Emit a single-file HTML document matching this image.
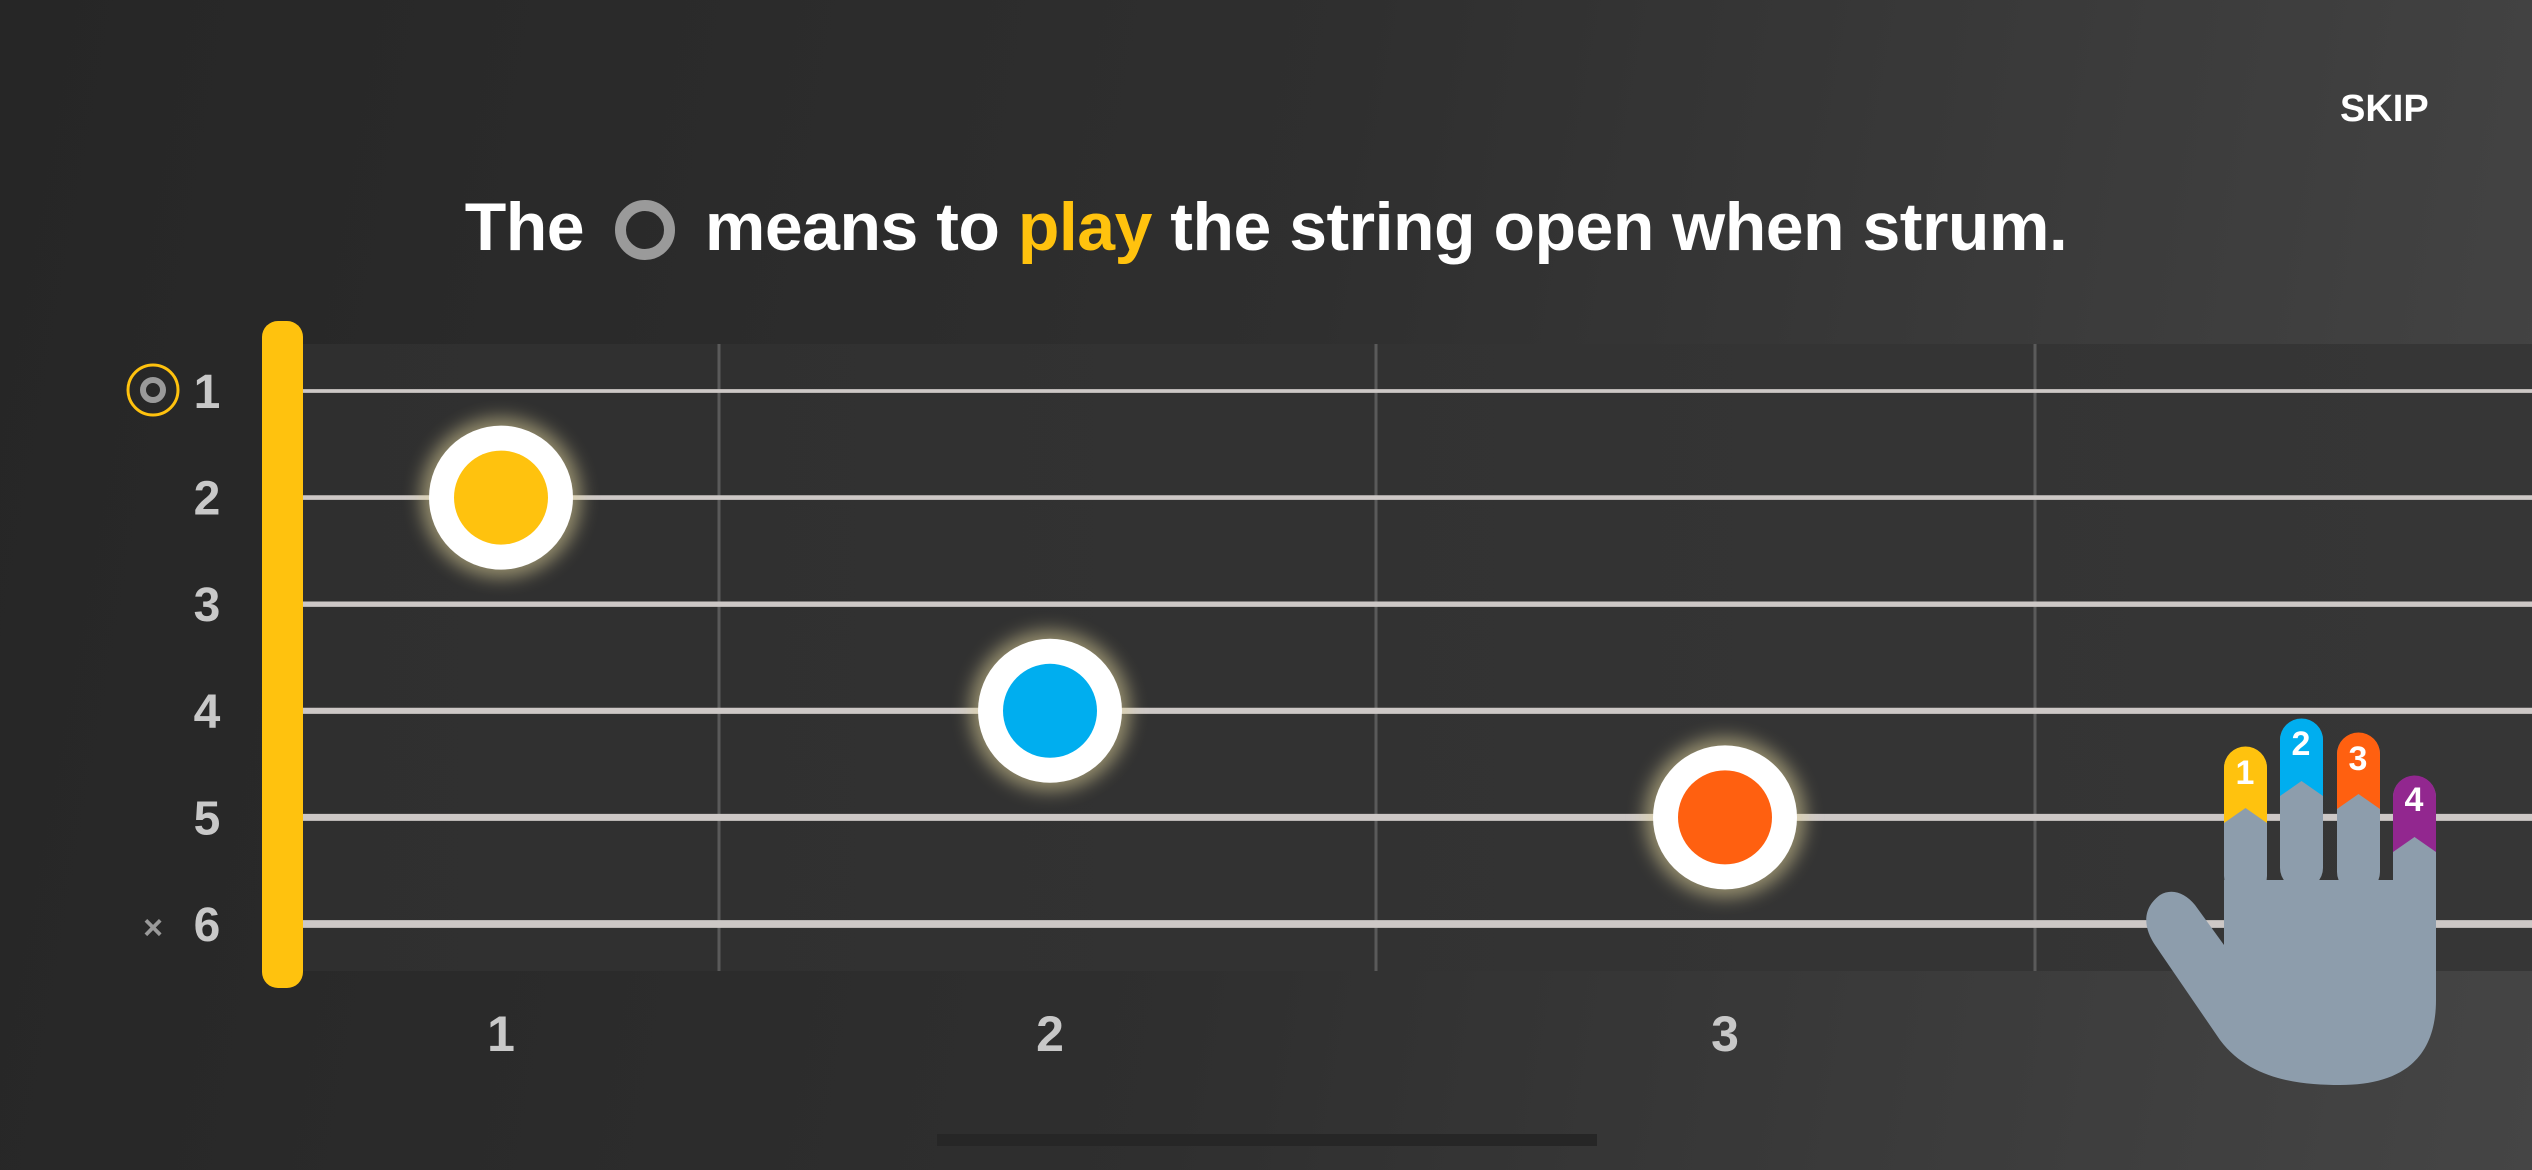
<!DOCTYPE html>
<html><head><meta charset="utf-8"><style>
html,body{margin:0;padding:0}
body{width:2532px;height:1170px;overflow:hidden;background:linear-gradient(100deg,#262626 0%,#2f2f2f 50%,#454545 100%);font-family:"Liberation Sans",sans-serif;position:relative}
#title{position:absolute;top:188px;left:0;width:2532px;text-align:center;color:#fff;font-weight:bold;font-size:68px;letter-spacing:-0.5px}
#skip{position:absolute;left:2340px;top:88px;color:#fff;font-weight:bold;font-size:38px}
</style></head><body>
<div id="skip">SKIP</div>
<div id="title">The <span style="display:inline-block;width:38px;height:38px;border:11px solid #9a9a9a;border-radius:50%;vertical-align:-10px;margin:0 12px"></span> means to <span style="color:#ffc20e">play</span> the string open when strum.</div>
<svg id="chart" width="2532" height="1170" style="position:absolute;left:0;top:0">
<defs>
<filter id="glow" x="-50%" y="-50%" width="200%" height="200%"><feGaussianBlur stdDeviation="9"/></filter>
<linearGradient id="fb" x1="0" x2="1"><stop offset="0" stop-color="#2f2f2f"/><stop offset="1" stop-color="#363636"/></linearGradient>
</defs>
<rect x="302" y="344" width="2230" height="627" fill="url(#fb)"/>
<g id="frets"></g><g id="strings"></g><g id="labels"></g><g id="dots"></g>
<rect x="262" y="321" width="41" height="667" rx="16" fill="#ffc20e"/>
<circle cx="153" cy="390" r="25" fill="none" stroke="#ffc20e" stroke-width="3"/>
<circle cx="153" cy="390" r="10" fill="none" stroke="#9a9a9a" stroke-width="6"/>
<text x="153" y="939" fill="#9a9a9a" font-size="34" font-weight="bold" text-anchor="middle">×</text>
<g>
<path d="M2160 895 C2140 910 2145 930 2155 945 L2220 1040 C2250 1080 2300 1085 2340 1085 C2400 1085 2436 1060 2436 1000 L2436 880 L2224 880 L2224 945 L2195 905 C2185 893 2172 888 2160 895Z" fill="#8d9dac"/>
<rect x="2224" y="747" width="43" height="150" rx="21" fill="#8d9dac"/>
<rect x="2280" y="719" width="43" height="170" rx="21" fill="#8d9dac"/>
<rect x="2337" y="733" width="43" height="160" rx="21" fill="#8d9dac"/>
<rect x="2393" y="776" width="43" height="130" rx="21" fill="#8d9dac"/>
<rect x="2224" y="880" width="212" height="40" fill="#8d9dac"/>
<path d="M2224 823 V768 a21.5 21.5 0 0 1 43 0 V823 L2245.5 808Z" fill="#ffc20e"/>
<path d="M2280 796 V740 a21.5 21.5 0 0 1 43 0 V796 L2301.5 781Z" fill="#00aeef"/>
<path d="M2337 809 V754 a21.5 21.5 0 0 1 43 0 V809 L2358.5 794Z" fill="#ff6010"/>
<path d="M2393 852 V797 a21.5 21.5 0 0 1 43 0 V852 L2414.5 837Z" fill="#92278f"/>
<g fill="#fff" font-weight="bold" font-size="34" text-anchor="middle">
<text x="2245" y="784">1</text><text x="2301" y="755">2</text><text x="2358" y="770">3</text><text x="2414" y="811">4</text></g>
</g>
<rect x="937" y="1134" width="660" height="12" fill="#262626"/>
</svg>
<script>
const stringNums=[1,2,3,4,5,6];
const fretNums=[1,2,3];
const fretLineX=[719,1376,2035];
const dotStrings=[2,4,5];
const dotFrets=[1,2,3];
const dotColors=['#ffc20e','#00aeef','#ff6010'];
const NS='http://www.w3.org/2000/svg';
function yS(s){return 391+(s-1)*106.6;}
const fc=[501,1050,1725];
function xF(f){const i=Math.floor(f)-1;if(i<0)return fc[0]+(f-1)*549;if(i>=fc.length-1)return fc[fc.length-1]+(f-fc.length)*675;return fc[i]+(f-1-i)*(fc[i+1]-fc[i]);}
function mk(tag,attrs,parent){const e=document.createElementNS(NS,tag);for(const k in attrs)e.setAttribute(k,attrs[k]);parent.appendChild(e);return e;}
const G=id=>document.getElementById(id);
fretLineX.forEach((x,i)=>{const l=mk('line',{x1:x,x2:x,y1:344,y2:971,stroke:'#5a5a5a','stroke-width':3},G('frets'));

});
stringNums.forEach(s=>{const l=mk('line',{x1:302,x2:2532,y1:yS(s),y2:yS(s),stroke:'#cdc8c6','stroke-width':3+s*0.8},G('strings'));


const t=mk('text',{x:207,y:yS(s)+17,fill:'#c8c8c8','font-size':48,'font-weight':'bold','text-anchor':'middle'},G('labels'));
t.textContent=s;

});
fretNums.forEach(f=>{const t=mk('text',{x:xF(f),y:1051,fill:'#c8c8c8','font-size':50,'font-weight':'bold','text-anchor':'middle'},G('labels'));
t.textContent=f;

});
dotStrings.forEach((s,i)=>{const g=mk('g',{},G('dots'));


const cx=xF(dotFrets[i]),cy=yS(s);
mk('circle',{cx:cx,cy:cy,r:80,fill:'#e9dca0',opacity:0.55,filter:'url(#glow)'},g);
mk('circle',{cx:cx,cy:cy,r:72,fill:'#fff'},g);
mk('circle',{cx:cx,cy:cy,r:47,fill:dotColors[i]},g);});
</script>
</body></html>
